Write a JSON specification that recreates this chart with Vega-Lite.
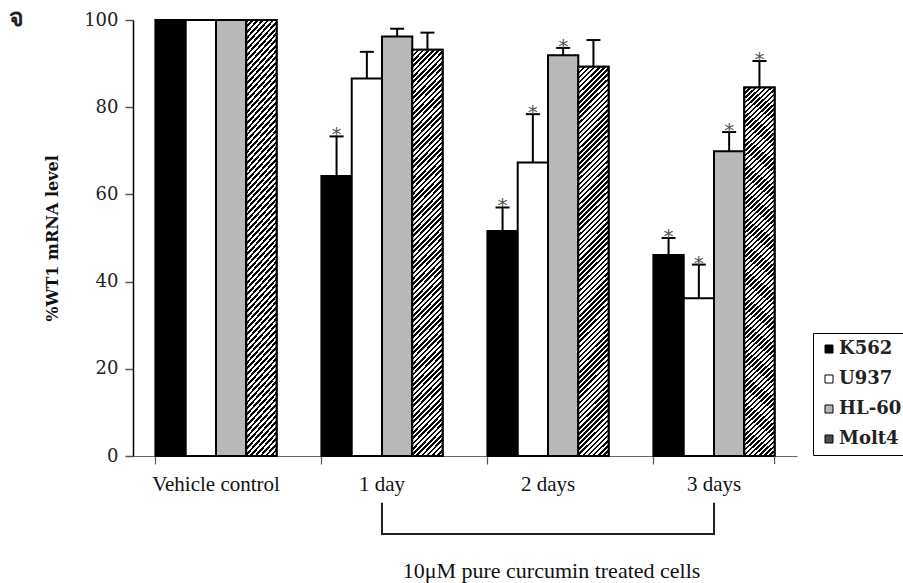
{
  "$schema": "https://vega.github.io/schema/vega-lite/v6.json",
  "autosize": {"type": "none"},
  "width": 664,
  "height": 436,
  "padding": {"left": 133, "top": 20, "right": 106, "bottom": 127},
  "config": {"font": "DejaVu Serif", "view": {"stroke": null}},
  "title": {"text": "จ", "anchor": "start", "frame": "group", "dx": -124, "dy": 20, "offset": 0, "fontSize": 25, "font": "DejaVu Sans", "fontWeight": "bold", "color": "#222"},
  "datasets": {
    "bars": [
      {"group": "Vehicle control", "line": "K562", "value": 100, "err": null, "sig": false},
      {"group": "Vehicle control", "line": "U937", "value": 100, "err": null, "sig": false},
      {"group": "Vehicle control", "line": "HL-60", "value": 100, "err": null, "sig": false},
      {"group": "Vehicle control", "line": "Molt4", "value": 100, "err": null, "sig": false},
      {"group": "1 day", "line": "K562", "value": 64.2, "err": 73.3, "sig": true},
      {"group": "1 day", "line": "U937", "value": 86.6, "err": 92.7, "sig": false},
      {"group": "1 day", "line": "HL-60", "value": 96.2, "err": 98.0, "sig": false},
      {"group": "1 day", "line": "Molt4", "value": 93.2, "err": 97.1, "sig": false},
      {"group": "2 days", "line": "K562", "value": 51.6, "err": 57.0, "sig": true},
      {"group": "2 days", "line": "U937", "value": 67.3, "err": 78.4, "sig": true},
      {"group": "2 days", "line": "HL-60", "value": 91.9, "err": 93.6, "sig": true},
      {"group": "2 days", "line": "Molt4", "value": 89.3, "err": 95.4, "sig": false},
      {"group": "3 days", "line": "K562", "value": 46.1, "err": 50.0, "sig": true},
      {"group": "3 days", "line": "U937", "value": 36.2, "err": 43.9, "sig": true},
      {"group": "3 days", "line": "HL-60", "value": 69.9, "err": 74.3, "sig": true},
      {"group": "3 days", "line": "Molt4", "value": 84.5, "err": 90.6, "sig": true}
    ],
    "bracket": [
      {"i": 1, "group": "1 day", "y": -10.7},
      {"i": 2, "group": "1 day", "y": -17.9},
      {"i": 3, "group": "3 days", "y": -17.9},
      {"i": 4, "group": "3 days", "y": -10.7}
    ],
    "endtick": [{"group": "3 days"}]
  },
  "encoding": {
    "x": {
      "field": "group", "type": "nominal",
      "sort": ["Vehicle control", "1 day", "2 days", "3 days"],
      "scale": {"domain": ["Vehicle control", "1 day", "2 days", "3 days"], "paddingInner": 0.27, "paddingOuter": 0.135},
      "axis": {
        "title": "10μM pure curcumin treated cells",
        "titleFont": "Liberation Serif", "titleFontSize": 22, "titleFontWeight": "normal", "titleColor": "#111",
        "titleX": 418, "titleY": 121, "titleBaseline": "alphabetic", "titleAlign": "center", "titleAnchor": null,
        "labelFont": "Liberation Serif", "labelFontSize": 21, "labelColor": "#111", "labelAngle": 0, "labelPadding": 9,
        "bandPosition": 0, "tickSize": 8, "tickColor": "#555", "tickWidth": 1.2,
        "domainColor": "#666", "domainWidth": 1.2, "grid": false
      }
    }
  },
  "layer": [
    {
      "data": {"name": "bars"},
      "mark": {"type": "bar", "stroke": "#000", "strokeWidth": 2, "clip": false},
      "encoding": {
        "xOffset": {"field": "line", "type": "nominal", "sort": ["K562", "U937", "HL-60", "Molt4"], "scale": {"domain": ["K562", "U937", "HL-60", "Molt4"], "paddingInner": 0, "paddingOuter": 0}},
        "y": {
          "field": "value", "type": "quantitative",
          "scale": {"domain": [0, 100], "nice": false},
          "axis": {
            "title": "%WT1 mRNA level", "titleFont": "DejaVu Serif", "titleFontWeight": "bold", "titleFontSize": 16, "titleColor": "#111", "titlePadding": 23,
            "values": [0, 20, 40, 60, 80, 100], "labelFont": "DejaVu Serif", "labelFontSize": 18, "labelColor": "#222", "labelPadding": 7,
            "tickSize": 8, "tickColor": "#555", "tickWidth": 1.5, "domainColor": "#000", "domainWidth": 1.5, "grid": false
          }
        },
        "fill": {
          "field": "line", "type": "nominal",
          "scale": {"domain": ["K562", "U937", "HL-60", "Molt4"], "range": ["#000000", "#ffffff", "#b8b8b8", "#505050"]},
          "legend": {
            "orient": "none", "legendX": 680, "legendY": 313, "title": null,
            "strokeColor": "#000", "fillColor": "#fff", "padding": 7, "rowPadding": 12,
            "symbolType": "square", "symbolSize": 64, "symbolStrokeColor": "#000", "symbolStrokeWidth": 1,
            "labelFont": "DejaVu Serif", "labelFontWeight": "bold", "labelFontSize": 18, "labelColor": "#222", "labelOffset": 1
          }
        }
      }
    },
    {
      "data": {"name": "bars"},
      "transform": [{"filter": "datum.line === 'Molt4'"}],
      "mark": {
        "type": "bar", "stroke": "#000", "strokeWidth": 2, "clip": false,
        "fill": {"gradient": "linear", "x1": 0, "y1": 0, "x2": 1, "y2": 13, "stops": [
          {"offset":0,"color":"#000"},{"offset":0.0005,"color":"#000"},{"offset":0.0005,"color":"#fff"},{"offset":0.001,"color":"#fff"},
          {"offset":0.001,"color":"#000"},{"offset":0.0015,"color":"#000"},{"offset":0.0015,"color":"#fff"},{"offset":0.002,"color":"#fff"},
          {"offset":0.002,"color":"#000"},{"offset":0.0025,"color":"#000"},{"offset":0.0025,"color":"#fff"},{"offset":0.003,"color":"#fff"},
          {"offset":0.003,"color":"#000"},{"offset":0.0035,"color":"#000"},{"offset":0.0035,"color":"#fff"},{"offset":0.004,"color":"#fff"},
          {"offset":0.004,"color":"#000"},{"offset":0.0045,"color":"#000"},{"offset":0.0045,"color":"#fff"},{"offset":0.005,"color":"#fff"},
          {"offset":0.005,"color":"#000"},{"offset":0.0055,"color":"#000"},{"offset":0.0055,"color":"#fff"},{"offset":0.006,"color":"#fff"},
          {"offset":0.006,"color":"#000"},{"offset":0.0065,"color":"#000"},{"offset":0.0065,"color":"#fff"},{"offset":0.007,"color":"#fff"},
          {"offset":0.007,"color":"#000"},{"offset":0.0075,"color":"#000"},{"offset":0.0075,"color":"#fff"},{"offset":0.008,"color":"#fff"},
          {"offset":0.008,"color":"#000"},{"offset":0.0085,"color":"#000"},{"offset":0.0085,"color":"#fff"},{"offset":0.009,"color":"#fff"},
          {"offset":0.009,"color":"#000"},{"offset":0.0095,"color":"#000"},{"offset":0.0095,"color":"#fff"},{"offset":0.01,"color":"#fff"},
          {"offset":0.01,"color":"#000"},{"offset":0.0105,"color":"#000"},{"offset":0.0105,"color":"#fff"},{"offset":0.011,"color":"#fff"},
          {"offset":0.011,"color":"#000"},{"offset":0.0115,"color":"#000"},{"offset":0.0115,"color":"#fff"},{"offset":0.012,"color":"#fff"},
          {"offset":0.012,"color":"#000"},{"offset":0.0125,"color":"#000"},{"offset":0.0125,"color":"#fff"},{"offset":0.013,"color":"#fff"},
          {"offset":0.013,"color":"#000"},{"offset":0.0135,"color":"#000"},{"offset":0.0135,"color":"#fff"},{"offset":0.014,"color":"#fff"},
          {"offset":0.014,"color":"#000"},{"offset":0.0145,"color":"#000"},{"offset":0.0145,"color":"#fff"},{"offset":0.015,"color":"#fff"},
          {"offset":0.015,"color":"#000"},{"offset":0.0155,"color":"#000"},{"offset":0.0155,"color":"#fff"},{"offset":0.016,"color":"#fff"},
          {"offset":0.016,"color":"#000"},{"offset":0.0165,"color":"#000"},{"offset":0.0165,"color":"#fff"},{"offset":0.017,"color":"#fff"},
          {"offset":0.017,"color":"#000"},{"offset":0.0175,"color":"#000"},{"offset":0.0175,"color":"#fff"},{"offset":0.018,"color":"#fff"},
          {"offset":0.018,"color":"#000"},{"offset":0.0185,"color":"#000"},{"offset":0.0185,"color":"#fff"},{"offset":0.019,"color":"#fff"},
          {"offset":0.019,"color":"#000"},{"offset":0.0195,"color":"#000"},{"offset":0.0195,"color":"#fff"},{"offset":0.02,"color":"#fff"},
          {"offset":0.02,"color":"#000"},{"offset":0.0205,"color":"#000"},{"offset":0.0205,"color":"#fff"},{"offset":0.021,"color":"#fff"},
          {"offset":0.021,"color":"#000"},{"offset":0.0215,"color":"#000"},{"offset":0.0215,"color":"#fff"},{"offset":0.022,"color":"#fff"},
          {"offset":0.022,"color":"#000"},{"offset":0.0225,"color":"#000"},{"offset":0.0225,"color":"#fff"},{"offset":0.023,"color":"#fff"},
          {"offset":0.023,"color":"#000"},{"offset":0.0235,"color":"#000"},{"offset":0.0235,"color":"#fff"},{"offset":0.024,"color":"#fff"},
          {"offset":0.024,"color":"#000"},{"offset":0.0245,"color":"#000"},{"offset":0.0245,"color":"#fff"},{"offset":0.025,"color":"#fff"},
          {"offset":0.025,"color":"#000"},{"offset":0.0255,"color":"#000"},{"offset":0.0255,"color":"#fff"},{"offset":0.026,"color":"#fff"},
          {"offset":0.026,"color":"#000"},{"offset":0.0265,"color":"#000"},{"offset":0.0265,"color":"#fff"},{"offset":0.027,"color":"#fff"},
          {"offset":0.027,"color":"#000"},{"offset":0.0275,"color":"#000"},{"offset":0.0275,"color":"#fff"},{"offset":0.028,"color":"#fff"},
          {"offset":0.028,"color":"#000"},{"offset":0.0285,"color":"#000"},{"offset":0.0285,"color":"#fff"},{"offset":0.029,"color":"#fff"},
          {"offset":0.029,"color":"#000"},{"offset":0.0295,"color":"#000"},{"offset":0.0295,"color":"#fff"},{"offset":0.03,"color":"#fff"},
          {"offset":0.03,"color":"#000"},{"offset":0.0305,"color":"#000"},{"offset":0.0305,"color":"#fff"},{"offset":0.031,"color":"#fff"},
          {"offset":0.031,"color":"#000"},{"offset":0.0315,"color":"#000"},{"offset":0.0315,"color":"#fff"},{"offset":0.032,"color":"#fff"},
          {"offset":0.032,"color":"#000"},{"offset":0.0325,"color":"#000"},{"offset":0.0325,"color":"#fff"},{"offset":0.033,"color":"#fff"},
          {"offset":0.033,"color":"#000"},{"offset":0.0335,"color":"#000"},{"offset":0.0335,"color":"#fff"},{"offset":0.034,"color":"#fff"},
          {"offset":0.034,"color":"#000"},{"offset":0.0345,"color":"#000"},{"offset":0.0345,"color":"#fff"},{"offset":0.035,"color":"#fff"},
          {"offset":0.035,"color":"#000"},{"offset":0.0355,"color":"#000"},{"offset":0.0355,"color":"#fff"},{"offset":0.036,"color":"#fff"},
          {"offset":0.036,"color":"#000"},{"offset":0.0365,"color":"#000"},{"offset":0.0365,"color":"#fff"},{"offset":0.037,"color":"#fff"},
          {"offset":0.037,"color":"#000"},{"offset":0.0375,"color":"#000"},{"offset":0.0375,"color":"#fff"},{"offset":0.038,"color":"#fff"},
          {"offset":0.038,"color":"#000"},{"offset":0.0385,"color":"#000"},{"offset":0.0385,"color":"#fff"},{"offset":0.039,"color":"#fff"},
          {"offset":0.039,"color":"#000"},{"offset":0.0395,"color":"#000"},{"offset":0.0395,"color":"#fff"},{"offset":0.04,"color":"#fff"},
          {"offset":0.04,"color":"#000"},{"offset":0.0405,"color":"#000"},{"offset":0.0405,"color":"#fff"},{"offset":0.041,"color":"#fff"},
          {"offset":0.041,"color":"#000"},{"offset":0.0415,"color":"#000"},{"offset":0.0415,"color":"#fff"},{"offset":0.042,"color":"#fff"},
          {"offset":0.042,"color":"#000"},{"offset":0.0425,"color":"#000"},{"offset":0.0425,"color":"#fff"},{"offset":0.043,"color":"#fff"},
          {"offset":0.043,"color":"#000"},{"offset":0.0435,"color":"#000"},{"offset":0.0435,"color":"#fff"},{"offset":0.044,"color":"#fff"},
          {"offset":0.044,"color":"#000"},{"offset":0.0445,"color":"#000"},{"offset":0.0445,"color":"#fff"},{"offset":0.045,"color":"#fff"},
          {"offset":0.045,"color":"#000"},{"offset":0.0455,"color":"#000"},{"offset":0.0455,"color":"#fff"},{"offset":0.046,"color":"#fff"},
          {"offset":0.046,"color":"#000"},{"offset":0.0465,"color":"#000"},{"offset":0.0465,"color":"#fff"},{"offset":0.047,"color":"#fff"},
          {"offset":0.047,"color":"#000"},{"offset":0.0475,"color":"#000"},{"offset":0.0475,"color":"#fff"},{"offset":0.048,"color":"#fff"},
          {"offset":0.048,"color":"#000"},{"offset":0.0485,"color":"#000"},{"offset":0.0485,"color":"#fff"},{"offset":0.049,"color":"#fff"},
          {"offset":0.049,"color":"#000"},{"offset":0.0495,"color":"#000"},{"offset":0.0495,"color":"#fff"},{"offset":0.05,"color":"#fff"},
          {"offset":0.05,"color":"#000"},{"offset":0.0505,"color":"#000"},{"offset":0.0505,"color":"#fff"},{"offset":0.051,"color":"#fff"},
          {"offset":0.051,"color":"#000"},{"offset":0.0515,"color":"#000"},{"offset":0.0515,"color":"#fff"},{"offset":0.052,"color":"#fff"},
          {"offset":0.052,"color":"#000"},{"offset":0.0525,"color":"#000"},{"offset":0.0525,"color":"#fff"},{"offset":0.053,"color":"#fff"},
          {"offset":0.053,"color":"#000"},{"offset":0.0535,"color":"#000"},{"offset":0.0535,"color":"#fff"},{"offset":0.054,"color":"#fff"},
          {"offset":0.054,"color":"#000"},{"offset":0.0545,"color":"#000"},{"offset":0.0545,"color":"#fff"},{"offset":0.055,"color":"#fff"},
          {"offset":0.055,"color":"#000"},{"offset":0.0555,"color":"#000"},{"offset":0.0555,"color":"#fff"},{"offset":0.056,"color":"#fff"},
          {"offset":0.056,"color":"#000"},{"offset":0.0565,"color":"#000"},{"offset":0.0565,"color":"#fff"},{"offset":0.057,"color":"#fff"},
          {"offset":0.057,"color":"#000"},{"offset":0.0575,"color":"#000"},{"offset":0.0575,"color":"#fff"},{"offset":0.058,"color":"#fff"},
          {"offset":0.058,"color":"#000"},{"offset":0.0585,"color":"#000"},{"offset":0.0585,"color":"#fff"},{"offset":0.059,"color":"#fff"},
          {"offset":0.059,"color":"#000"},{"offset":0.0595,"color":"#000"},{"offset":0.0595,"color":"#fff"},{"offset":0.06,"color":"#fff"},
          {"offset":0.06,"color":"#000"},{"offset":0.0605,"color":"#000"},{"offset":0.0605,"color":"#fff"},{"offset":0.061,"color":"#fff"},
          {"offset":0.061,"color":"#000"},{"offset":0.0615,"color":"#000"},{"offset":0.0615,"color":"#fff"},{"offset":0.062,"color":"#fff"},
          {"offset":0.062,"color":"#000"},{"offset":0.0625,"color":"#000"},{"offset":0.0625,"color":"#fff"},{"offset":0.063,"color":"#fff"},
          {"offset":0.063,"color":"#000"},{"offset":0.0635,"color":"#000"},{"offset":0.0635,"color":"#fff"},{"offset":0.064,"color":"#fff"},
          {"offset":0.064,"color":"#000"},{"offset":0.0645,"color":"#000"},{"offset":0.0645,"color":"#fff"},{"offset":0.065,"color":"#fff"},
          {"offset":0.065,"color":"#000"},{"offset":0.0655,"color":"#000"},{"offset":0.0655,"color":"#fff"},{"offset":0.066,"color":"#fff"},
          {"offset":0.066,"color":"#000"},{"offset":0.0665,"color":"#000"},{"offset":0.0665,"color":"#fff"},{"offset":0.067,"color":"#fff"},
          {"offset":0.067,"color":"#000"},{"offset":0.0675,"color":"#000"},{"offset":0.0675,"color":"#fff"},{"offset":0.068,"color":"#fff"},
          {"offset":0.068,"color":"#000"},{"offset":0.0685,"color":"#000"},{"offset":0.0685,"color":"#fff"},{"offset":0.069,"color":"#fff"},
          {"offset":0.069,"color":"#000"},{"offset":0.0695,"color":"#000"},{"offset":0.0695,"color":"#fff"},{"offset":0.07,"color":"#fff"},
          {"offset":0.07,"color":"#000"},{"offset":0.0705,"color":"#000"},{"offset":0.0705,"color":"#fff"},{"offset":0.071,"color":"#fff"},
          {"offset":0.071,"color":"#000"},{"offset":0.0715,"color":"#000"},{"offset":0.0715,"color":"#fff"},{"offset":0.072,"color":"#fff"},
          {"offset":0.072,"color":"#000"},{"offset":0.0725,"color":"#000"},{"offset":0.0725,"color":"#fff"},{"offset":0.073,"color":"#fff"},
          {"offset":0.073,"color":"#000"},{"offset":0.0735,"color":"#000"},{"offset":0.0735,"color":"#fff"},{"offset":0.074,"color":"#fff"},
          {"offset":0.074,"color":"#000"},{"offset":0.0745,"color":"#000"},{"offset":0.0745,"color":"#fff"},{"offset":0.075,"color":"#fff"},
          {"offset":0.075,"color":"#000"},{"offset":0.0755,"color":"#000"},{"offset":0.0755,"color":"#fff"},{"offset":0.076,"color":"#fff"},
          {"offset":0.076,"color":"#000"},{"offset":0.0765,"color":"#000"},{"offset":0.0765,"color":"#fff"},{"offset":0.077,"color":"#fff"},
          {"offset":0.077,"color":"#000"},{"offset":0.0775,"color":"#000"},{"offset":0.0775,"color":"#fff"},{"offset":0.078,"color":"#fff"},
          {"offset":0.078,"color":"#000"},{"offset":0.0785,"color":"#000"},{"offset":0.0785,"color":"#fff"},{"offset":0.079,"color":"#fff"},
          {"offset":0.079,"color":"#000"},{"offset":0.0795,"color":"#000"},{"offset":0.0795,"color":"#fff"},{"offset":0.08,"color":"#fff"},
          {"offset":0.08,"color":"#000"},{"offset":0.0805,"color":"#000"},{"offset":0.0805,"color":"#fff"},{"offset":0.081,"color":"#fff"},
          {"offset":0.081,"color":"#000"},{"offset":0.0815,"color":"#000"},{"offset":0.0815,"color":"#fff"},{"offset":0.082,"color":"#fff"},
          {"offset":0.082,"color":"#000"},{"offset":0.0825,"color":"#000"},{"offset":0.0825,"color":"#fff"},{"offset":0.083,"color":"#fff"}
        ]}
      },
      "encoding": {
        "xOffset": {"field": "line", "type": "nominal", "sort": ["K562", "U937", "HL-60", "Molt4"]},
        "y": {"field": "value", "type": "quantitative", "title": "%WT1 mRNA level"}
      }
    },
    {
      "data": {"name": "bars"},
      "transform": [{"filter": "datum.err != null"}],
      "mark": {"type": "rule", "color": "#000", "strokeWidth": 2, "clip": false},
      "encoding": {
        "xOffset": {"field": "line", "type": "nominal", "sort": ["K562", "U937", "HL-60", "Molt4"]},
        "y": {"field": "value", "type": "quantitative", "title": "%WT1 mRNA level"},
        "y2": {"field": "err"}
      }
    },
    {
      "data": {"name": "bars"},
      "transform": [{"filter": "datum.err != null"}],
      "mark": {"type": "tick", "orient": "horizontal", "color": "#000", "size": 14, "thickness": 2, "opacity": 1, "clip": false},
      "encoding": {
        "xOffset": {"field": "line", "type": "nominal", "sort": ["K562", "U937", "HL-60", "Molt4"]},
        "y": {"field": "err", "type": "quantitative", "title": "%WT1 mRNA level"}
      }
    },
    {
      "data": {"name": "bars"},
      "transform": [{"filter": "datum.sig"}],
      "mark": {"type": "text", "text": "*", "font": "DejaVu Sans", "fontSize": 20, "color": "#555", "baseline": "alphabetic", "align": "center", "dy": 5, "clip": false},
      "encoding": {
        "xOffset": {"field": "line", "type": "nominal", "sort": ["K562", "U937", "HL-60", "Molt4"]},
        "y": {"field": "err", "type": "quantitative", "title": "%WT1 mRNA level"}
      }
    },
    {
      "data": {"name": "bracket"},
      "mark": {"type": "line", "color": "#222", "strokeWidth": 2, "clip": false},
      "encoding": {
        "y": {"field": "y", "type": "quantitative", "title": "%WT1 mRNA level"},
        "order": {"field": "i", "type": "quantitative"}
      }
    },
    {
      "data": {"name": "endtick"},
      "mark": {"type": "rule", "color": "#555", "strokeWidth": 1.2, "clip": false},
      "encoding": {
        "x": {"field": "group", "type": "nominal", "bandPosition": 1},
        "y": {"datum": 0},
        "y2": {"datum": -1.84}
      }
    }
  ]
}
